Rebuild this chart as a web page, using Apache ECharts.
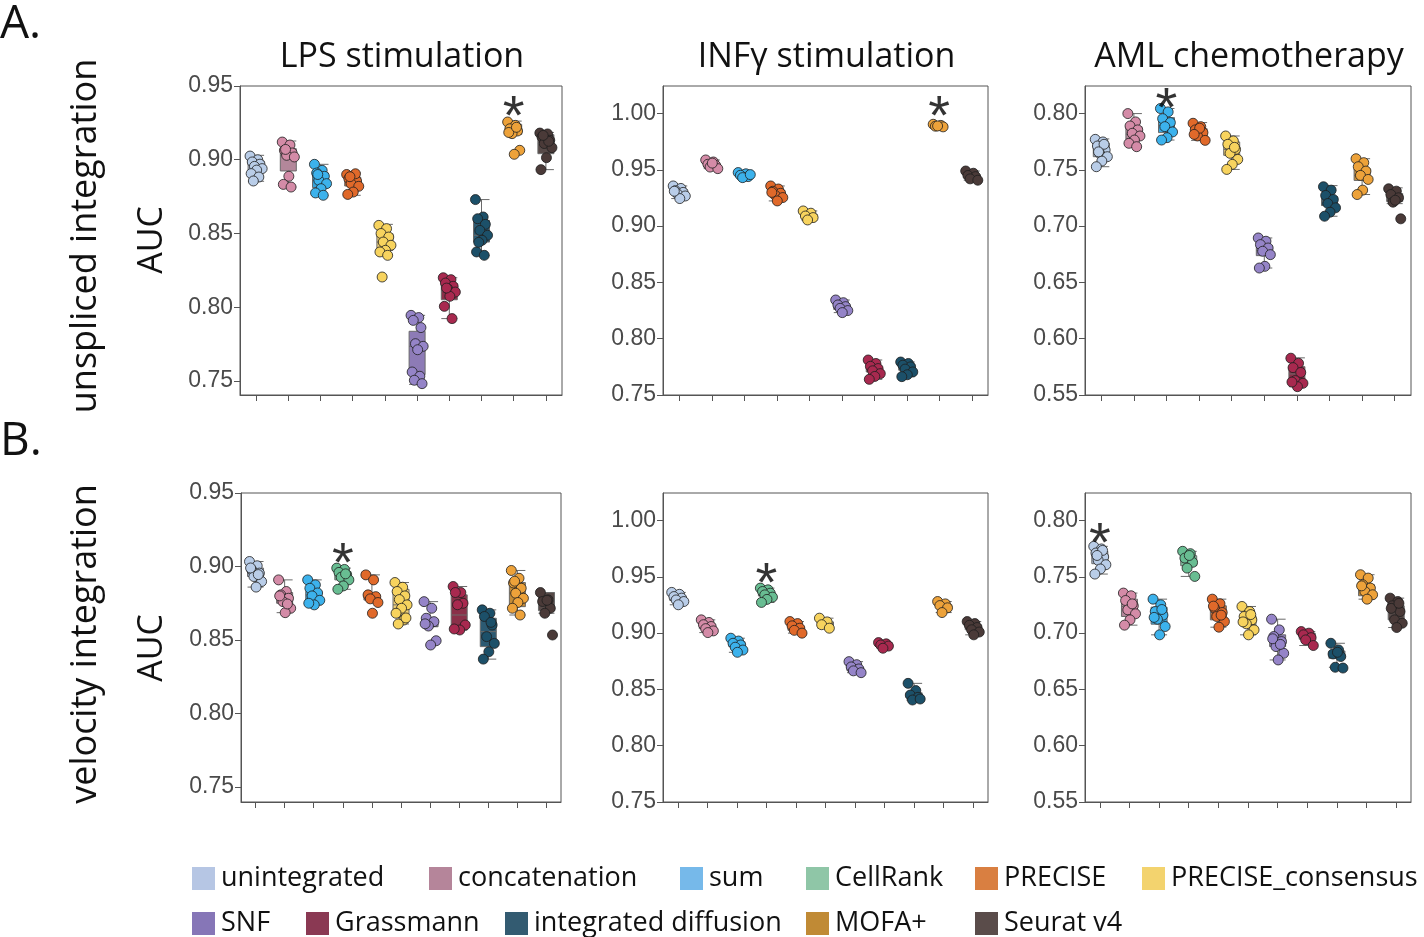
<!DOCTYPE html>
<html><head><meta charset="utf-8">
<script src="https://cdn.jsdelivr.net/npm/echarts@6/dist/echarts.min.js"></script>
<style>html,body{margin:0;padding:0;background:#fff}#c{width:1424px;height:937px}</style>
</head><body><div id="c"></div>
<script>
// ---------- DATA ----------
const topMethods = ['unintegrated','concatenation','sum','PRECISE','PRECISE_consensus','SNF','Grassmann','integrated diffusion','MOFA+','Seurat v4'];
const bottomMethods = ['unintegrated','concatenation','sum','CellRank','PRECISE','PRECISE_consensus','SNF','Grassmann','integrated diffusion','MOFA+','Seurat v4'];
const panelTitles = ['LPS stimulation','INFγ stimulation','AML chemotherapy'];
const rowLabels = ['unspliced integration','velocity integration'];
const panelLetters = ['A.','B.'];
const ticks095 = [0.75,0.80,0.85,0.90,0.95];
const ticks100 = [0.75,0.80,0.85,0.90,0.95,1.00];
const ticks080 = [0.55,0.60,0.65,0.70,0.75,0.80];

// box stats: [min, Q1, median, Q3, max]
const lpsUnsplicedBoxes = [
 [0.8854,0.8928,0.8962,0.8992,0.9030],[0.8815,0.8924,0.9030,0.9075,0.9127],[0.8759,0.8811,0.8860,0.8910,0.8969],
 [0.8759,0.8822,0.8854,0.8883,0.8910],[0.8352,0.8386,0.8442,0.8499,0.8562],[0.7477,0.7543,0.7735,0.7837,0.7945],
 [0.7923,0.8051,0.8110,0.8160,0.8200],[0.8352,0.8442,0.8488,0.8589,0.8730],[0.9172,0.9172,0.9211,0.9240,0.9262],
 [0.8933,0.9041,0.9109,0.9170,0.9185]];
const lpsUnsplicedPoints = [
 [0.9025,0.9000,0.8985,0.8970,0.8955,0.8940,0.8930,0.8906,0.8883,0.8856],
 [0.9120,0.9100,0.9064,0.9046,0.9030,0.9019,0.8888,0.8833,0.8815,0.9070],
 [0.8969,0.8928,0.8910,0.8888,0.8860,0.8838,0.8804,0.8775,0.8759,0.8900],
 [0.8900,0.8895,0.8872,0.8856,0.8838,0.8820,0.8781,0.8765,0.8905,0.8885],
 [0.8555,0.8533,0.8500,0.8476,0.8442,0.8420,0.8386,0.8375,0.8352,0.8205],
 [0.7945,0.7930,0.7911,0.7862,0.7753,0.7735,0.7712,0.7561,0.7532,0.7505,0.7482],
 [0.8200,0.8187,0.8164,0.8142,0.8126,0.8103,0.8074,0.8006,0.7923,0.8130],
 [0.8730,0.8612,0.8600,0.8562,0.8521,0.8488,0.8454,0.8375,0.8352,0.8440],
 [0.9256,0.9233,0.9210,0.9195,0.9177,0.9064,0.9037,0.9185,0.9220],
 [0.9181,0.9175,0.9154,0.9132,0.9110,0.9082,0.9014,0.8933,0.9125,0.9165]];
const lpsUnsplicedStar = ['MOFA+',0.9365];

const infUnsplicedBoxes = [
 [0.9245,0.9280,0.9304,0.9325,0.9357],[0.9511,0.9525,0.9540,0.9560,0.9588],[0.9431,0.9440,0.9452,0.9465,0.9476],
 [0.9224,0.9270,0.9292,0.9320,0.9357],[0.9055,0.9080,0.9090,0.9105,0.9135],[0.8232,0.8260,0.8285,0.8310,0.8344],
 [0.7639,0.7705,0.7728,0.7750,0.7811],[0.7663,0.7720,0.7749,0.7775,0.7793],[0.9875,0.9882,0.9890,0.9897,0.9905],
 [0.9408,0.9432,0.9446,0.9460,0.9490]];
const infUnsplicedPoints = [
 [0.9357,0.9335,0.9315,0.9300,0.9285,0.9268,0.9245,0.9310],
 [0.9588,0.9570,0.9550,0.9540,0.9525,0.9511,0.9560],
 [0.9476,0.9465,0.9452,0.9440,0.9431,0.9458],
 [0.9357,0.9330,0.9310,0.9292,0.9275,0.9254,0.9224,0.9300],
 [0.9135,0.9115,0.9090,0.9076,0.9055],
 [0.8344,0.8320,0.8300,0.8285,0.8270,0.8250,0.8232],
 [0.7811,0.7780,0.7755,0.7735,0.7715,0.7690,0.7665,0.7639],
 [0.7793,0.7780,0.7765,0.7750,0.7730,0.7705,0.7680,0.7663],
 [0.9905,0.9895,0.9888,0.9882,0.9890],
 [0.9490,0.9470,0.9450,0.9440,0.9420,0.9408]];
const infUnsplicedStar = ['MOFA+',1.0068];

const amlUnsplicedBoxes = [
 [0.7528,0.7617,0.7676,0.7736,0.7775],[0.7706,0.7771,0.7816,0.7884,0.8000],[0.7765,0.7831,0.7896,0.7964,0.8045],
 [0.7762,0.7792,0.7831,0.7866,0.7920],[0.7504,0.7629,0.7682,0.7748,0.7801],[0.6628,0.6738,0.6783,0.6827,0.6895],
 [0.5574,0.5619,0.5687,0.5752,0.5830],[0.7088,0.7183,0.7222,0.7261,0.7360],[0.7281,0.7406,0.7451,0.7510,0.7599],
 [0.7200,0.7219,0.7252,0.7290,0.7340]];
const amlUnsplicedPoints = [
 [0.7771,0.7748,0.7712,0.7676,0.7647,0.7617,0.7578,0.7528,0.7727,0.7660],
 [0.8000,0.7926,0.7890,0.7855,0.7825,0.7801,0.7765,0.7736,0.7706],
 [0.8045,0.8015,0.7955,0.7920,0.7884,0.7837,0.7786,0.7765],
 [0.7914,0.7884,0.7855,0.7831,0.7801,0.7762,0.7870,0.7815],
 [0.7801,0.7757,0.7727,0.7682,0.7647,0.7593,0.7549,0.7504,0.7700],
 [0.6895,0.6866,0.6836,0.6806,0.6777,0.6747,0.6643,0.6628],
 [0.5827,0.5782,0.5743,0.5700,0.5628,0.5604,0.5574,0.5615],
 [0.7350,0.7320,0.7273,0.7237,0.7201,0.7163,0.7124,0.7088],
 [0.7599,0.7564,0.7528,0.7489,0.7451,0.7415,0.7320,0.7281],
 [0.7332,0.7311,0.7281,0.7252,0.7213,0.7065,0.7230]];
const amlUnsplicedStar = ['sum',0.8143];

const lpsVelocityBoxes = [
 [0.8860,0.8932,0.8955,0.8989,0.9034],[0.8686,0.8750,0.8795,0.8823,0.8909],[0.8739,0.8745,0.8807,0.8830,0.8909],
 [0.8845,0.8909,0.8943,0.8966,0.8989],[0.8773,0.8773,0.8791,0.8807,0.8943],[0.8609,0.8670,0.8739,0.8845,0.8891],
 [0.8591,0.8591,0.8618,0.8641,0.8761],[0.8568,0.8568,0.8670,0.8807,0.8864],[0.8370,0.8455,0.8557,0.8648,0.8705],
 [0.8670,0.8727,0.8818,0.8891,0.8973],[0.8682,0.8700,0.8773,0.8823,0.8823]];
const lpsVelocityPoints = [
 [0.9034,0.9005,0.8977,0.8955,0.8932,0.8898,0.8860,0.8990,0.8945],
 [0.8909,0.8830,0.8807,0.8784,0.8761,0.8716,0.8686,0.8800,0.8745],
 [0.8909,0.8875,0.8852,0.8820,0.8800,0.8770,0.8739,0.8750],
 [0.8989,0.8980,0.8960,0.8943,0.8927,0.8909,0.8868,0.8845,0.8950],
 [0.8943,0.8909,0.8807,0.8795,0.8780,0.8755,0.8682],
 [0.8891,0.8859,0.8830,0.8800,0.8775,0.8739,0.8716,0.8682,0.8636,0.8609,0.8650],
 [0.8761,0.8716,0.8648,0.8625,0.8595,0.8495,0.8466,0.8610],
 [0.8864,0.8823,0.8823,0.8750,0.8740,0.8602,0.8568,0.8575],
 [0.8705,0.8682,0.8660,0.8602,0.8523,0.8477,0.8420,0.8370,0.8620],
 [0.8973,0.8920,0.8888,0.8852,0.8818,0.8784,0.8755,0.8716,0.8670,0.8900],
 [0.8823,0.8773,0.8762,0.8716,0.8682,0.8534,0.8770]];
const lpsVelocityStar = ['CellRank',0.9095];

const infVelocityBoxes = [
 [0.9252,0.9290,0.9311,0.9330,0.9362],[0.9005,0.9040,0.9059,0.9080,0.9118],[0.8830,0.8880,0.8901,0.8925,0.8955],
 [0.9273,0.9330,0.9350,0.9375,0.9400],[0.9000,0.9025,0.9044,0.9065,0.9103],[0.9044,0.9070,0.9083,0.9100,0.9133],
 [0.8649,0.8665,0.8682,0.8700,0.8747],[0.8866,0.8880,0.8890,0.8900,0.8916],[0.8406,0.8425,0.8441,0.8470,0.8554],
 [0.9183,0.9230,0.9243,0.9255,0.9281],[0.8985,0.9030,0.9053,0.9075,0.9103]];
const infVelocityPoints = [
 [0.9362,0.9345,0.9325,0.9311,0.9295,0.9281,0.9252],
 [0.9118,0.9095,0.9075,0.9059,0.9040,0.9020,0.9005],
 [0.8955,0.8930,0.8910,0.8895,0.8875,0.8850,0.8830],
 [0.9400,0.9385,0.9370,0.9355,0.9340,0.9320,0.9300,0.9273],
 [0.9103,0.9085,0.9065,0.9044,0.9025,0.9000],
 [0.9133,0.9100,0.9075,0.9044],
 [0.8747,0.8720,0.8700,0.8682,0.8665,0.8649],
 [0.8916,0.8905,0.8895,0.8885,0.8866],
 [0.8554,0.8490,0.8450,0.8430,0.8406,0.8415],
 [0.9281,0.9260,0.9245,0.9225,0.9183],
 [0.9103,0.9085,0.9070,0.9050,0.9030,0.9010,0.8985]];
const infVelocityStar = ['CellRank',0.954];

const amlVelocityBoxes = [
 [0.7525,0.7617,0.7667,0.7727,0.7771],[0.7071,0.7148,0.7237,0.7302,0.7356],[0.6985,0.7080,0.7154,0.7231,0.7302],
 [0.7504,0.7599,0.7653,0.7688,0.7727],[0.7053,0.7118,0.7183,0.7243,0.7302],[0.6985,0.7074,0.7118,0.7154,0.7237],
 [0.6762,0.6881,0.6946,0.6985,0.7124],[0.6890,0.6946,0.6976,0.6999,0.7014],[0.6697,0.6777,0.6815,0.6842,0.6910],
 [0.7302,0.7332,0.7385,0.7430,0.7519],[0.7050,0.7118,0.7192,0.7243,0.7311]];
const amlVelocityPoints = [
 [0.7771,0.7748,0.7712,0.7677,0.7647,0.7608,0.7570,0.7525,0.7735,0.7690],
 [0.7356,0.7332,0.7290,0.7243,0.7207,0.7172,0.7118,0.7071,0.7260],
 [0.7302,0.7252,0.7192,0.7160,0.7124,0.7059,0.6985,0.7140,0.7210],
 [0.7727,0.7706,0.7667,0.7629,0.7578,0.7504,0.7690],
 [0.7302,0.7261,0.7222,0.7183,0.7148,0.7103,0.7053,0.7240,0.7160],
 [0.7237,0.7192,0.7148,0.7118,0.7083,0.7029,0.6985,0.7100,0.7165],
 [0.7124,0.7029,0.6970,0.6925,0.6881,0.6821,0.6762,0.6950,0.6900],
 [0.7014,0.7000,0.6985,0.6960,0.6940,0.6890],
 [0.6910,0.6851,0.6815,0.6792,0.6697,0.6690,0.6830],
 [0.7519,0.7489,0.7430,0.7400,0.7370,0.7341,0.7302,0.7420],
 [0.7311,0.7281,0.7243,0.7192,0.7118,0.7088,0.7050,0.7220,0.7265]];
const amlVelocityStar = ['unintegrated',0.7896];

// ---------- STYLE ----------
const boxColors = {'unintegrated':'#b3c2dc','concatenation':'#b3879a','sum':'#36a3d9','CellRank':'#7cb899','PRECISE':'#c96d33','PRECISE_consensus':'#efcf73','SNF':'#8d7bb6','Grassmann':'#8a3049','integrated diffusion':'#2c5a72','MOFA+':'#c48c38','Seurat v4':'#574a48'};
const pointColors = {'unintegrated':'#b9cde8','concatenation':'#d48ba7','sum':'#3cb2ec','CellRank':'#68bd92','PRECISE':'#e0692a','PRECISE_consensus':'#f7d35e','SNF':'#9584c8','Grassmann':'#a8294f','integrated diffusion':'#1c5069','MOFA+':'#eda23a','Seurat v4':'#4a3a38'};
const legendColors = {'unintegrated':'#b6c6e4','concatenation':'#b5859a','sum':'#76b9ea','CellRank':'#8fc6a7','PRECISE':'#d97f41','PRECISE_consensus':'#f3d36e','SNF':'#8676b7','Grassmann':'#8a3953','integrated diffusion':'#335b71','MOFA+':'#c08a35','Seurat v4':'#5a4c4a'};

const panels = [
 {cats:topMethods, boxes:lpsUnsplicedBoxes, pts:lpsUnsplicedPoints, star:lpsUnsplicedStar, min:0.7405, max:0.95, ticks:ticks095, g:[240,86,322,309]},
 {cats:topMethods, boxes:infUnsplicedBoxes, pts:infUnsplicedPoints, star:infUnsplicedStar, min:0.75, max:1.0245, ticks:ticks100, g:[663,86,325,309]},
 {cats:topMethods, boxes:amlUnsplicedBoxes, pts:amlUnsplicedPoints, star:amlUnsplicedStar, min:0.55, max:0.8245, ticks:ticks080, g:[1085,86,326,309]},
 {cats:bottomMethods, boxes:lpsVelocityBoxes, pts:lpsVelocityPoints, star:lpsVelocityStar, min:0.7398, max:0.95, ticks:ticks095, g:[241,493,320,309]},
 {cats:bottomMethods, boxes:infVelocityBoxes, pts:infVelocityPoints, star:infVelocityStar, min:0.75, max:1.0245, ticks:ticks100, g:[663,493,325,309]},
 {cats:bottomMethods, boxes:amlVelocityBoxes, pts:amlVelocityPoints, star:amlVelocityStar, min:0.55, max:0.8245, ticks:ticks080, g:[1085,493,326,309]}
];

function jit(i){ return ((i*7)%12 - 5.5) * 1.1; }

const AX = '#555';
const grid = [], xAxis = [], yAxis = [], series = [];
panels.forEach((p, k) => {
  grid.push({left:p.g[0], top:p.g[1], width:p.g[2], height:p.g[3], show:true, borderColor:AX, borderWidth:1, containLabel:false});
  xAxis.push({type:'category', gridIndex:k, data:p.cats, boundaryGap:true,
    axisLine:{show:true, lineStyle:{color:AX, width:1}},
    axisTick:{show:true, interval:0, alignWithLabel:true, length:6, lineStyle:{color:AX}},
    axisLabel:{show:false, interval:0}, splitLine:{show:false}});
  yAxis.push({type:'value', gridIndex:k, min:p.min, max:p.max,
    axisLine:{show:true, lineStyle:{color:AX, width:1}},
    axisTick:{show:true, length:6, customValues:p.ticks, lineStyle:{color:AX}},
    axisLabel:{show:true, customValues:p.ticks, formatter:v=>v.toFixed(2), fontSize:23, color:'#4a4a4a', fontFamily:'Liberation Sans', margin:7},
    splitLine:{show:false}});
  series.push({type:'boxplot', name:'box'+k, xAxisIndex:k, yAxisIndex:k, boxWidth:[16,16], z:2, silent:true,
    data:p.boxes.map((b,i)=>({value:b, itemStyle:{color:boxColors[p.cats[i]], borderColor:'#6a6a6a', borderWidth:1}}))});
  p.cats.forEach((m,i)=>{
    series.push({type:'scatter', name:m, xAxisIndex:k, yAxisIndex:k, z:3, symbol:'circle', symbolSize:10,
      itemStyle:{color:pointColors[m], borderColor:'#1e1e1e', borderWidth:0.8, opacity:1},
      data:p.pts[i].map((v,j)=>({value:[m,v], symbolOffset:[jit(j),0]}))});
  });
  series.push({type:'scatter', name:'star'+k, xAxisIndex:k, yAxisIndex:k, z:4, silent:true, symbolSize:1,
    itemStyle:{color:'rgba(0,0,0,0)'},
    label:{show:true, formatter:'*', position:'inside', fontSize:56, color:'#000', fontFamily:'Liberation Sans', offset:[0,13]},
    data:[p.star]});
});

const titles = [];
[0,1,2].forEach(c=>{
  const g = panels[c].g;
  titles.push({text:panelTitles[c], left:g[0]+g[2]/2-4, top:35, textAlign:'center',
    textStyle:{fontSize:34, fontWeight:'normal', color:'#111', fontFamily:'Open Sans'}});
});

const graphic = [
  {type:'text', x:0, y:2, style:{text:panelLetters[0], fontSize:46, fontFamily:'Open Sans', fill:'#111'}},
  {type:'text', x:0, y:419, style:{text:panelLetters[1], fontSize:46, fontFamily:'Open Sans', fill:'#111'}},
  {type:'text', x:86, y:236, rotation:Math.PI/2, style:{text:rowLabels[0], fontSize:36, fontFamily:'Open Sans', fill:'#111', align:'center', verticalAlign:'middle'}},
  {type:'text', x:86, y:644, rotation:Math.PI/2, style:{text:rowLabels[1], fontSize:36, fontFamily:'Open Sans', fill:'#111', align:'center', verticalAlign:'middle'}},
  {type:'text', x:152, y:240, rotation:Math.PI/2, style:{text:'AUC', fontSize:34, fontFamily:'Open Sans', fill:'#111', align:'center', verticalAlign:'middle'}},
  {type:'text', x:152, y:648, rotation:Math.PI/2, style:{text:'AUC', fontSize:34, fontFamily:'Open Sans', fill:'#111', align:'center', verticalAlign:'middle'}}
];

const legendSpots = [
  ['unintegrated',192,865],['concatenation',429,865],['sum',680,865],['CellRank',806,865],['PRECISE',975,865],['PRECISE_consensus',1142,865],
  ['SNF',192,910],['Grassmann',306,910],['integrated diffusion',505,910],['MOFA+',806,910],['Seurat v4',975,910]
];
const legend = legendSpots.map(([n,x,y])=>({left:x, top:y, padding:0, itemWidth:23, itemHeight:23, itemGap:0, selectedMode:false,
  icon:'rect', data:[{name:n, icon:'rect', itemStyle:{color:legendColors[n], borderWidth:0, opacity:1}}],
  textStyle:{fontSize:27, fontFamily:'Open Sans', color:'#111', padding:[0,0,0,1]}}));

const chart = echarts.init(document.getElementById('c'));
chart.setOption({backgroundColor:'#fff', animation:false, title:titles, grid, xAxis, yAxis, series, legend, graphic});
</script></body></html>
